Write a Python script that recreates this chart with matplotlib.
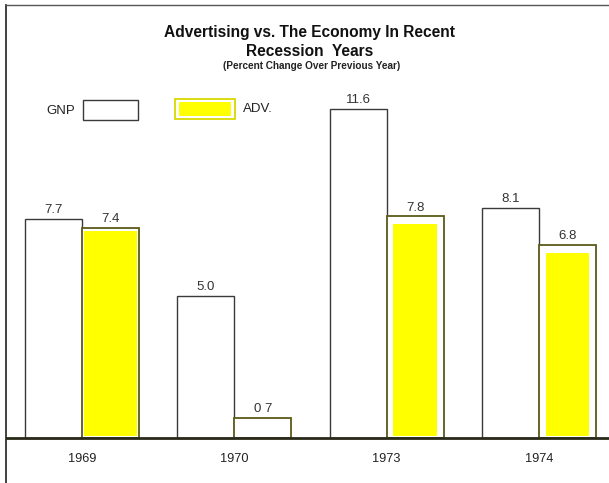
import matplotlib
matplotlib.use("Agg")
import matplotlib.pyplot as plt
from matplotlib.patches import Rectangle

# percent change over previous year
years = ["1969", "1970", "1973", "1974"]
gnp = [7.7, 5.0, 11.6, 8.1]
adv = [7.4, 0.7, 7.8, 6.8]
gnp_labels = ["7.7", "5.0", "11.6", "8.1"]
adv_labels = ["7.4", "0 7", "7.8", "6.8"]

# yellow fill inside each ADV box: (side inset, top inset) in data units, None = no fill
fill_inset = [(0.015, 0.1), None, (0.045, 0.25), (0.045, 0.3)]

W, H, DPI = 609, 483, 100
PX_X = 152.3          # pixels per group
PX_Y = 28.4           # pixels per percent point
BASE = 438            # baseline, pixels from top
LEFT = 6

fig = plt.figure(figsize=(W / DPI, H / DPI), dpi=DPI)
ax = fig.add_axes([LEFT / W, 0, 1 - LEFT / W, 1 - 5 / H])
ax.set_xlim(-(82 - LEFT) / PX_X, (W - 82) / PX_X)
ax.set_ylim(-(H - BASE) / PX_Y, (BASE - 5) / PX_Y)
for s in ["right", "bottom"]:
    ax.spines[s].set_visible(False)
ax.spines["left"].set_color("#333333")
ax.spines["top"].set_color("#555555")
ax.spines["left"].set_linewidth(1.3)
ax.spines["top"].set_linewidth(1.0)
ax.set_xticks([])
ax.set_yticks([])

bw = 57 / PX_X
gnp_edge = "#3a3a3a"
adv_edge = "#5c5a18"
yellow = "#ffff00"

x = list(range(len(years)))
ax.bar([i - bw / 2 for i in x], gnp, width=bw, color="white",
       edgecolor=gnp_edge, linewidth=1.0, zorder=2)
ax.bar([i + bw / 2 for i in x], adv, width=bw, color="white",
       edgecolor=adv_edge, linewidth=1.3, zorder=2)
for i, v in enumerate(adv):
    if fill_inset[i] is None:
        continue
    dx, dy = fill_inset[i]
    ax.bar(i + bw / 2, v - dy - 0.07, bottom=0.07, width=bw - 2 * dx,
           color=yellow, edgecolor="none", zorder=3)

for i in x:
    ax.text(i - bw / 2, gnp[i] + 0.1, gnp_labels[i], ha="center", va="bottom",
            fontsize=9.5, color="#333333", family="Liberation Sans")
    ax.text(i + bw / 2, adv[i] + 0.1, adv_labels[i], ha="center", va="bottom",
            fontsize=9.5, color="#333333", family="Liberation Sans")
    ax.text(i, -0.75, years[i], ha="center", va="center",
            fontsize=9.2, color="#222222", family="Liberation Sans")

ax.axhline(0, color="#2a2a1a", linewidth=2.0, zorder=4)

# title block
fig.text(310 / W, 1 - 33 / H, "Advertising vs. The Economy In Recent",
         ha="center", va="center", fontsize=11.2, fontweight="bold",
         family="Liberation Sans", color="#111111")
fig.text(310 / W, 1 - 51 / H, "Recession  Years", ha="center", va="center",
         fontsize=11.2, fontweight="bold", family="Liberation Sans", color="#111111")
fig.text(312 / W, 1 - 66 / H, "(Percent Change Over Previous Year)",
         ha="center", va="center", fontsize=7.2, fontweight="bold",
         family="Liberation Sans", color="#222222")

# legend boxes
fig.text(61 / W, 1 - 111 / H, "GNP", ha="center", va="center",
         fontsize=9.5, family="Liberation Sans", color="#222222")
fig.patches.append(Rectangle((83 / W, 1 - 120 / H), 55 / W, 20 / H,
                             transform=fig.transFigure, facecolor="white",
                             edgecolor=gnp_edge, linewidth=1.0))
fig.patches.append(Rectangle((175 / W, 1 - 119 / H), 60 / W, 20 / H,
                             transform=fig.transFigure, facecolor="white",
                             edgecolor="#d8d800", linewidth=1.3))
fig.patches.append(Rectangle((179 / W, 1 - 116 / H), 52 / W, 14 / H,
                             transform=fig.transFigure, facecolor=yellow,
                             edgecolor="none"))
fig.text(243 / W, 1 - 109 / H, "ADV.", ha="left", va="center",
         fontsize=9.5, family="Liberation Sans", color="#222222")

fig.savefig("out.png", dpi=DPI)
